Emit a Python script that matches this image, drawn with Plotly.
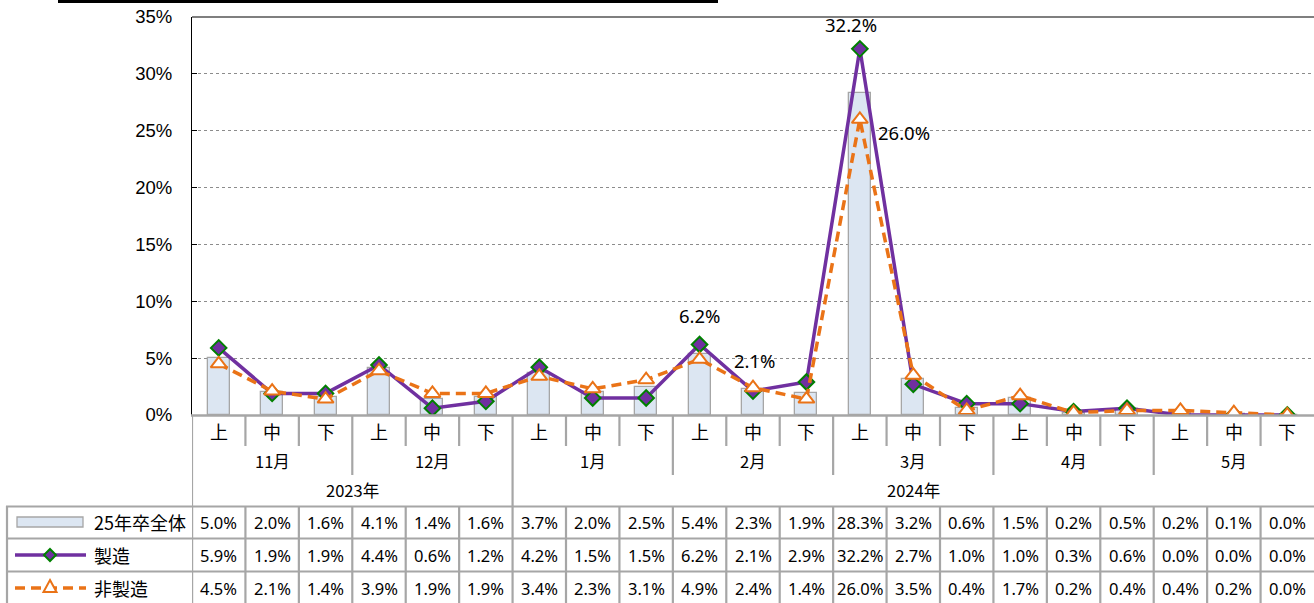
import plotly.graph_objects as go

# ---------------- data ----------------
periods = ["上", "中", "下"] * 7
months = ["11月", "12月", "1月", "2月", "3月", "4月", "5月"]
years = ["2023年", "2024年"]
months_per_year = [2, 5]
series_names = ["25年卒全体", "製造", "非製造"]
total = [5.0, 2.0, 1.6, 4.1, 1.4, 1.6, 3.7, 2.0, 2.5, 5.4, 2.3, 1.9, 28.3, 3.2, 0.6, 1.5, 0.2, 0.5, 0.2, 0.1, 0.0]
mfg = [5.9, 1.9, 1.9, 4.4, 0.6, 1.2, 4.2, 1.5, 1.5, 6.2, 2.1, 2.9, 32.2, 2.7, 1.0, 1.0, 0.3, 0.6, 0.0, 0.0, 0.0]
nonmfg = [4.5, 2.1, 1.4, 3.9, 1.9, 1.9, 3.4, 2.3, 3.1, 4.9, 2.4, 1.4, 26.0, 3.5, 0.4, 1.7, 0.2, 0.4, 0.4, 0.2, 0.0]
y_ticks = [0, 5, 10, 15, 20, 25, 30, 35]

# ---------------- styling ----------------
W, H = 1314, 603
BAR_FILL = "#DCE6F2"
BAR_LINE = "#A6A6A6"
PURPLE = "#7030A0"
GREEN = "#008000"
ORANGE = "#EA7317"
TABLE = "#A6A6A6"
CJK = "Noto Sans CJK JP"
NUM = "Noto Sans"

def py(px):  # pixel row -> paper y
    return 1 - px / H

def pxx(px):  # pixel column -> paper x
    return px / W

n = len(periods)
xs = list(range(n))

fig = go.Figure()
fig.add_trace(go.Bar(x=xs, y=total, width=0.41, marker=dict(color=BAR_FILL, line=dict(color=BAR_LINE, width=1.3)),
                     name=series_names[0], showlegend=False))
fig.add_trace(go.Scatter(x=xs, y=mfg, mode="lines+markers", name=series_names[1], showlegend=False,
                         line=dict(color=PURPLE, width=3.5),
                         marker=dict(symbol="diamond", size=12, color=PURPLE, line=dict(color=GREEN, width=2))))
fig.add_trace(go.Scatter(x=xs, y=nonmfg, mode="lines+markers", name=series_names[2], showlegend=False,
                         line=dict(color=ORANGE, width=3.5, dash="10px,6px"),
                         marker=dict(symbol="triangle-up", size=14, color="white", line=dict(color=ORANGE, width=2))))

shapes = []
annotations = []

def ann(**kw):
    base = dict(showarrow=False, xanchor="center", yanchor="middle")
    base.update(kw)
    annotations.append(base)

# top decoration line and plot borders
shapes.append(dict(type="rect", xref="paper", yref="paper", x0=pxx(58), x1=pxx(718), y0=py(3), y1=py(0),
                   fillcolor="black", line=dict(width=0)))
shapes.append(dict(type="line", xref="paper", yref="paper", x0=pxx(192), x1=1, y0=py(17), y1=py(17),
                   line=dict(color="black", width=1.2)))

# axis baseline / table top
shapes.append(dict(type="line", xref="paper", yref="paper", x0=pxx(191), x1=1, y0=py(415.5), y1=py(415.5),
                   line=dict(color=TABLE, width=2.5)))

# vertical separators in header region
month_bounds = set()
acc = 0
for m in months:
    acc += 3
    month_bounds.add(acc)
year_bounds = set()
acc = 0
for k in months_per_year:
    acc += 3 * k
    year_bounds.add(acc)

for b in range(0, n):
    xb = b - 0.5
    if b == 0:
        y_bottom = 603
    elif b in year_bounds:
        y_bottom = 506
    elif b in month_bounds:
        y_bottom = 475
    else:
        y_bottom = 446
    shapes.append(dict(type="line", xref="x", yref="paper", x0=xb, x1=xb, y0=py(415), y1=py(y_bottom),
                       line=dict(color=TABLE, width=2.2)))
    shapes.append(dict(type="line", xref="x", yref="paper", x0=xb, x1=xb, y0=py(506), y1=py(603),
                       line=dict(color=TABLE, width=2.2)))

# data table horizontals and legend column
for yy in [506.5, 538.5, 571.5]:
    shapes.append(dict(type="line", xref="paper", yref="paper", x0=pxx(6), x1=1, y0=py(yy), y1=py(yy),
                       line=dict(color=TABLE, width=2.2)))
shapes.append(dict(type="line", xref="paper", yref="paper", x0=pxx(7), x1=pxx(7), y0=py(506), y1=py(603),
                   line=dict(color=TABLE, width=2.2)))

# category labels
for i, p in enumerate(periods):
    ann(x=i, y=py(431), xref="x", yref="paper", text=p, font=dict(family=CJK, size=18, color="black"))
for j, m in enumerate(months):
    ann(x=3 * j + 1, y=py(461), xref="x", yref="paper", text=m, font=dict(family=CJK, size=16.5, color="black"))
start = 0
for yname, k in zip(years, months_per_year):
    end = start + 3 * k - 1
    ann(x=(start + end) / 2, y=py(490), xref="x", yref="paper", text=yname,
        font=dict(family=CJK, size=16.5, color="black"))
    start = end + 1

# table values
row_centers = [522, 555, 588]
for row_vals, yc in zip([total, mfg, nonmfg], row_centers):
    for i, v in enumerate(row_vals):
        ann(x=i, y=py(yc), xref="x", yref="paper", text=f"{v:.1f}%",
            font=dict(family=NUM, size=16.5, color="black"))

# legend keys in table
shapes.append(dict(type="rect", xref="paper", yref="paper", x0=pxx(17), x1=pxx(83), y0=py(527), y1=py(517),
                   fillcolor=BAR_FILL, line=dict(color=BAR_LINE, width=1.3)))
shapes.append(dict(type="line", xref="paper", yref="paper", x0=pxx(15), x1=pxx(86), y0=py(555), y1=py(555),
                   line=dict(color=PURPLE, width=3.5)))
shapes.append(dict(type="path", xref="paper", yref="paper",
                   path=f"M {pxx(50)},{py(549)} L {pxx(56)},{py(555)} L {pxx(50)},{py(561)} L {pxx(44)},{py(555)} Z",
                   fillcolor=PURPLE, line=dict(color=GREEN, width=2)))
shapes.append(dict(type="line", xref="paper", yref="paper", x0=pxx(15), x1=pxx(86), y0=py(588), y1=py(588),
                   line=dict(color=ORANGE, width=3.5, dash="10px,6px")))
shapes.append(dict(type="path", xref="paper", yref="paper",
                   path=f"M {pxx(50)},{py(580)} L {pxx(56.5)},{py(592)} L {pxx(43.5)},{py(592)} Z",
                   fillcolor="white", line=dict(color=ORANGE, width=2)))
for name, yc in zip(series_names, row_centers):
    ann(x=pxx(92), y=py(yc), xref="paper", yref="paper", xanchor="left", text=name,
        font=dict(family=CJK, size=18, color="black"))

# data labels
peak = mfg.index(max(mfg))
feb_top = 9
feb_mid = 10
LBL = dict(family=NUM, size=18.5, color="black")
ann(x=peak, y=mfg[peak], xref="x", yref="y", text=f"{mfg[peak]:.1f}%", xshift=-9, yshift=24, font=LBL)
ann(x=peak, y=nonmfg[peak], xref="x", yref="y", text=f"{nonmfg[peak]:.1f}%",
    xanchor="left", xshift=16, yshift=-13, font=LBL)
ann(x=feb_top, y=mfg[feb_top], xref="x", yref="y", text=f"{mfg[feb_top]:.1f}%", yshift=29, font=LBL)
ann(x=feb_mid, y=mfg[feb_mid], xref="x", yref="y", text=f"{mfg[feb_mid]:.1f}%", xshift=2, yshift=31, font=LBL)

fig.update_layout(
    width=W, height=H, margin=dict(l=0, r=0, t=0, b=0, pad=0, autoexpand=False),
    paper_bgcolor="white", plot_bgcolor="white",
    bargap=0, showlegend=False,
    shapes=shapes, annotations=annotations,
    xaxis=dict(domain=[pxx(192), 1], range=[-0.5, n - 0.5], showticklabels=False, showgrid=False,
               zeroline=False, showline=False, fixedrange=True, automargin=False),
    yaxis=dict(domain=[py(415), py(17)], range=[0, 35], tickvals=y_ticks, ticktext=[f"{t}%" for t in y_ticks],
               showgrid=True, gridcolor="#8C8C8C", griddash="dot", gridwidth=1,
               zeroline=False, showline=True, linecolor="black", linewidth=1.2,
               ticks="inside", ticklen=5, tickcolor="black",
               tickfont=dict(family="Liberation Sans Narrow, Liberation Sans", size=18.5, color="black"),
               ticklabelstandoff=15, fixedrange=True, automargin=False),
)

fig.write_html("out.html", config={"displayModeBar": False},
               post_script="document.body.style.margin='0';document.body.style.overflow='hidden';")
